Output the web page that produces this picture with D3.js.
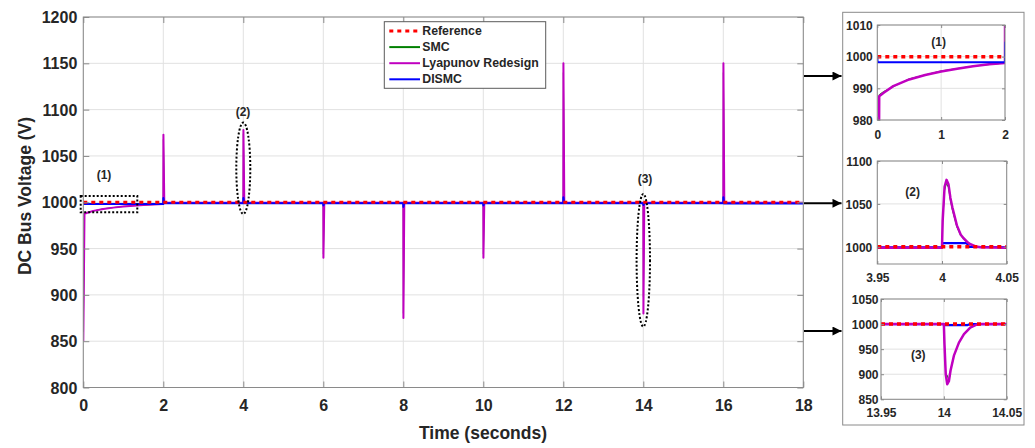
<!DOCTYPE html>
<html>
<head>
<meta charset="utf-8">
<script src="https://cdn.jsdelivr.net/npm/d3@7"></script>
<style>
  body { margin: 0; background: #fff; }
  svg text { font-family: Arial, "Liberation Sans", sans-serif; font-weight: bold; fill: #262626; }
</style>
</head>
<body>
<svg id="chart" width="1035" height="448"></svg>
<script>
// ---------- Main plot: DC bus voltage over the full run ----------
const mainXTicks = [0, 2, 4, 6, 8, 10, 12, 14, 16, 18];
const mainYTicks = [800, 850, 900, 950, 1000, 1050, 1100, 1150, 1200];
const referenceVoltage = 1000;

const lyapT = [0, 0.03, 0.1, 0.25, 0.5, 0.75, 1.0, 1.25, 1.5, 1.75, 2.0, 2.003, 2.025,
               4.0, 4.003, 4.025, 6.0, 6.003, 6.025, 8.0, 8.003, 8.025, 10.0, 10.003, 10.025,
               12.0, 12.003, 12.025, 14.0, 14.003, 14.025, 16.0, 16.003, 16.025, 18.0];
const lyapV = [850, 987.5, 988.6, 990.7, 992.8, 994.2, 995.3, 996.2, 997.0, 997.6, 998.0, 1073, 999.5,
               999.5, 1078, 999.5, 999.5, 940, 999.5, 999.5, 875, 999.5, 999.5, 940, 999.5,
               999.5, 1150, 999.5, 999.5, 880, 999.5, 999.5, 1150, 999.5, 999.5];

const smcT = [0, 0.03, 0.1, 0.5, 1.0, 1.5, 2.0, 2.003, 2.025,
              4.0, 4.003, 4.025, 6.0, 6.003, 6.025, 8.0, 8.003, 8.025, 10.0, 10.003, 10.025,
              12.0, 12.003, 12.025, 14.0, 14.003, 14.025, 16.0, 16.003, 16.025, 18.0];
const smcV = [860, 988, 989, 993, 995.5, 997, 998, 1068, 999.5,
              999.5, 1074, 999.5, 999.5, 944, 999.5, 999.5, 880, 999.5, 999.5, 944, 999.5,
              999.5, 1140, 999.5, 999.5, 898, 999.5, 999.5, 1140, 999.5, 999.5];

const dismcT = [0, 0.004, 2.0, 2.002, 2.02, 4.0, 4.002, 4.02, 6.0, 6.002, 6.02, 8.0, 8.002, 8.02,
                10.0, 10.002, 10.02, 12.0, 12.002, 12.02, 14.0, 14.002, 14.02, 16.0, 16.002, 16.02, 18.0];
const dismcV = [1000, 998.2, 998.2, 1004.5, 999, 999, 1004.5, 999, 999, 996.5, 999, 999, 995, 999,
                999, 996.5, 999, 999, 1005.5, 999, 999, 997, 999, 999, 1005.5, 998.6, 998.6];

// ---------- Zoom (2): step at t = 4 s ----------
const zoom2XTicks = [3.95, 4, 4.05];
const zoom2YTicks = [1000, 1050, 1100];
const zoom2T = [3.95, 4.0, 4.0005, 4.002, 4.0035, 4.005, 4.0065, 4.008, 4.0115, 4.0145, 4.0167, 4.02, 4.022, 4.026, 4.03, 4.05];
const zoom2Lyap = [999, 999, 1030, 1070, 1078, 1073, 1057, 1046, 1025, 1014, 1010, 1005, 1003, 1000.5, 999.5, 999];
const zoom2Smc = [999, 999, 1028, 1066, 1074, 1069, 1054, 1043, 1023, 1013, 1009, 1004.5, 1002.5, 1000.5, 999.5, 999];
const zoom2DismcT = [3.95, 4.0, 4.0003, 4.019, 4.021, 4.05];
const zoom2Dismc = [999.5, 999.5, 1004.3, 1004.3, 1000, 999.5];

// ---------- Zoom (3): step at t = 14 s ----------
const zoom3XTicks = [13.95, 14, 14.05];
const zoom3YTicks = [850, 900, 950, 1000, 1050];
const zoom3T = [13.95, 14.0, 14.0005, 14.0015, 14.0027, 14.004, 14.0053, 14.008, 14.012, 14.016, 14.021, 14.026, 14.03, 14.05];
const zoom3Lyap = [1000, 1000, 960, 900, 880, 886, 907, 937, 963, 980, 993, 998.7, 1000, 1000];
const zoom3Smc = [1000, 1000, 960, 900, 898, 886, 907, 937, 963, 980, 993, 998.7, 1000, 1000];
const zoom3DismcT = [13.95, 14.0, 14.0003, 14.019, 14.021, 14.05];
const zoom3Dismc = [1000, 1000, 998, 998, 1000, 1000];

// ---------- Zoom (1): start-up ----------
const zoom1XTicks = [0, 1, 2];
const zoom1YTicks = [980, 990, 1000, 1010];

const legendNames = ["Reference", "SMC", "Lyapunov Redesign", "DISMC"];
const COLORS = { ref: "#ff0000", smc: "#008000", lyap: "#c000c0", dismc: "#0000ff" };

const svg = d3.select("#chart");
const zip = (ts, vs) => ts.map((t, i) => [t, vs[i]]);

let clipId = 0;
function drawPanel(o) {
  const g = svg.append("g");
  const x = d3.scaleLinear().domain(o.xd).range([o.left, o.right]);
  const y = d3.scaleLinear().domain(o.yd).range([o.bottom, o.top]);
  const h = o.bottom - o.top, w = o.right - o.left;

  g.append("rect").attr("x", o.left).attr("y", o.top).attr("width", w).attr("height", h).attr("fill", "#fff");

  // grid
  const grid = g.append("g").attr("class", "grid");
  grid.selectAll("line.gx").data(o.xt).join("line")
    .attr("x1", d => x(d)).attr("x2", d => x(d)).attr("y1", o.top).attr("y2", o.bottom)
    .attr("stroke", "#e1e1e1").attr("stroke-width", 1);
  grid.selectAll("line.gy").data(o.yt).join("line").attr("class", "gy")
    .attr("x1", o.left).attr("x2", o.right).attr("y1", d => y(d)).attr("y2", d => y(d))
    .attr("stroke", "#e1e1e1").attr("stroke-width", 1);

  const id = "clip" + (clipId++);
  g.append("clipPath").attr("id", id).append("rect")
    .attr("x", o.left).attr("y", o.top).attr("width", w).attr("height", h);
  const plot = g.append("g").attr("clip-path", `url(#${id})`);
  const line = d3.line().x(d => x(d[0])).y(d => y(d[1]));
  o.series.forEach(s => {
    plot.append("path").datum(s.data).attr("d", line)
      .attr("fill", "none").attr("stroke", s.color).attr("stroke-width", s.width)
      .attr("stroke-dasharray", s.dash || null).attr("stroke-linejoin", "round");
  });

  // axes with inward ticks
  const fs = o.fontSize;
  const fmt = d => String(d);
  const ax = g.append("g").attr("transform", `translate(0,${o.bottom})`)
    .call(d3.axisBottom(x).tickValues(o.xt).tickSizeInner(-o.tick).tickSizeOuter(0).tickPadding(o.xPad).tickFormat(fmt));
  const ay = g.append("g").attr("transform", `translate(${o.left},0)`)
    .call(d3.axisLeft(y).tickValues(o.yt).tickSizeInner(-o.tick).tickSizeOuter(0).tickPadding(o.yPad).tickFormat(fmt));
  const at = g.append("g").attr("transform", `translate(0,${o.top})`)
    .call(d3.axisTop(x).tickValues(o.xt).tickSizeInner(-o.tick).tickSizeOuter(0).tickFormat(""));
  const ar = g.append("g").attr("transform", `translate(${o.right},0)`)
    .call(d3.axisRight(y).tickValues(o.yt).tickSizeInner(-o.tick).tickSizeOuter(0).tickFormat(""));
  [ax, ay, at, ar].forEach(a => {
    a.select(".domain").remove();
    a.selectAll(".tick line").attr("stroke", "#8a8a8a");
    a.selectAll("text").attr("font-size", fs).attr("fill", "#262626")
      .style("font-family", 'Arial, "Liberation Sans", sans-serif').style("font-weight", "bold");
  });
  ay.selectAll("text").attr("dy", "0.35em");

  g.append("rect").attr("x", o.left).attr("y", o.top).attr("width", w).attr("height", h)
    .attr("fill", "none").attr("stroke", "#8a8a8a").attr("stroke-width", 1);
  return { x, y, g };
}

// ---------- main panel ----------
const main = drawPanel({
  left: 83.3, right: 803.3, top: 17, bottom: 387.5,
  xd: [0, 18], yd: [800, 1200], xt: mainXTicks, yt: mainYTicks,
  fontSize: 16, tick: 6, xPad: 12, yPad: 6,
  series: [
    { data: zip(smcT, smcV), color: COLORS.smc, width: 1 },
    { data: zip(lyapT, lyapV), color: COLORS.lyap, width: 2 },
    { data: zip(dismcT, dismcV), color: COLORS.dismc, width: 2 },
    { data: [[0, referenceVoltage], [18, referenceVoltage]], color: COLORS.ref, width: 3, dash: "4,4" }
  ]
});

// axis titles
svg.append("text").attr("x", 483).attr("y", 439.3).attr("text-anchor", "middle")
  .attr("font-size", 17.5).text("Time (seconds)");
svg.append("text").attr("transform", "translate(30.5,196) rotate(-90)").attr("text-anchor", "middle")
  .attr("font-size", 17.5).text("DC Bus Voltage (V)");

// annotations on the main panel
const ann = svg.append("g");
ann.append("rect").attr("x", 80.7).attr("y", 196).attr("width", 56.6).attr("height", 16.3)
  .attr("fill", "none").attr("stroke", "#000").attr("stroke-width", 2).attr("stroke-dasharray", "2,2");
ann.append("ellipse").attr("cx", main.x(4)).attr("cy", 168.3).attr("rx", 7).attr("ry", 45.7)
  .attr("fill", "none").attr("stroke", "#000").attr("stroke-width", 2).attr("stroke-dasharray", "2,2");
ann.append("ellipse").attr("cx", main.x(14)).attr("cy", 260.3).attr("rx", 6.7).attr("ry", 66.3)
  .attr("fill", "none").attr("stroke", "#000").attr("stroke-width", 2).attr("stroke-dasharray", "2,2");
[["(1)", 104, 175], ["(2)", 243, 111.7], ["(3)", 645, 178.3]].forEach(([t, x, y]) => {
  ann.append("text").attr("x", x).attr("y", y).attr("dy", "0.35em").attr("text-anchor", "middle")
    .attr("font-size", 12).text(t);
});

// legend
const leg = svg.append("g");
leg.append("rect").attr("x", 384.3).attr("y", 21.7).attr("width", 161.4).attr("height", 66.6)
  .attr("fill", "#fff").attr("stroke", "#5a5a5a").attr("stroke-width", 1);
const legColors = [COLORS.ref, COLORS.smc, COLORS.lyap, COLORS.dismc];
legendNames.forEach((name, i) => {
  const by = 35 + i * 16.1;
  leg.append("line").attr("x1", 389.3).attr("x2", 420).attr("y1", by - 4).attr("y2", by - 4)
    .attr("stroke", legColors[i]).attr("stroke-width", i === 0 ? 3 : 2)
    .attr("stroke-dasharray", i === 0 ? "4,4" : null);
  leg.append("text").attr("x", 422.3).attr("y", by).attr("font-size", 12.3).text(name);
});

// ---------- zoom panels ----------
svg.append("rect").attr("x", 842.7).attr("y", 12.3).attr("width", 181.3).attr("height", 412.7)
  .attr("fill", "#fff").attr("stroke", "#8a8a8a").attr("stroke-width", 1);

drawPanel({
  left: 877.3, right: 1005, top: 25, bottom: 120,
  xd: [0, 2], yd: [980, 1010], xt: zoom1XTicks, yt: zoom1YTicks,
  fontSize: 12, tick: 3, xPad: 10, yPad: 4.5,
  series: [
    { data: zip(smcT, smcV), color: COLORS.smc, width: 1 },
    { data: zip(lyapT, lyapV), color: COLORS.lyap, width: 2.5 },
    { data: zip(dismcT, dismcV), color: COLORS.dismc, width: 2 },
    { data: [[0, referenceVoltage], [2, referenceVoltage]], color: COLORS.ref, width: 3.5, dash: "4,4" }
  ]
});
drawPanel({
  left: 877.3, right: 1006.7, top: 161, bottom: 264,
  xd: [3.95, 4.05], yd: [980, 1100], xt: zoom2XTicks, yt: zoom2YTicks,
  fontSize: 12, tick: 3, xPad: 9, yPad: 5,
  series: [
    { data: zip(zoom2T, zoom2Smc), color: COLORS.smc, width: 1 },
    { data: zip(zoom2DismcT, zoom2Dismc), color: COLORS.dismc, width: 2.2 },
    { data: zip(zoom2T, zoom2Lyap), color: COLORS.lyap, width: 2.5 },
    { data: [[3.95, referenceVoltage], [4.05, referenceVoltage]], color: COLORS.ref, width: 3.5, dash: "4,4" }
  ]
});
drawPanel({
  left: 881, right: 1006.7, top: 299, bottom: 399.3,
  xd: [13.95, 14.05], yd: [850, 1050], xt: zoom3XTicks, yt: zoom3YTicks,
  fontSize: 12, tick: 3, xPad: 9, yPad: 2.5,
  series: [
    { data: zip(zoom3DismcT, zoom3Dismc), color: COLORS.dismc, width: 2.2 },
    { data: zip(zoom3T, zoom3Smc), color: COLORS.smc, width: 1 },
    { data: zip(zoom3T, zoom3Lyap), color: COLORS.lyap, width: 2.5 },
    { data: [[13.95, referenceVoltage], [14.05, referenceVoltage]], color: COLORS.ref, width: 3.5, dash: "4,4" }
  ]
});
[["(1)", 938.7, 41.3], ["(2)", 912.7, 191.7], ["(3)", 918.3, 355]].forEach(([t, x, y]) => {
  svg.append("text").attr("x", x).attr("y", y).attr("dy", "0.35em").attr("text-anchor", "middle")
    .attr("font-size", 12).text(t);
});

// arrows from the main panel to each zoom
const defs = svg.append("defs");
defs.append("marker").attr("id", "head").attr("viewBox", "0 0 10 10").attr("refX", 10).attr("refY", 5)
  .attr("markerWidth", 5).attr("markerHeight", 4.5).attr("markerUnits", "strokeWidth").attr("orient", "auto")
  .append("path").attr("d", "M0,0 L10,5 L0,10 Z").attr("fill", "#000");
[76, 203.3, 331].forEach(yy => {
  svg.append("line").attr("x1", 804).attr("x2", 841.5).attr("y1", yy).attr("y2", yy)
    .attr("stroke", "#000").attr("stroke-width", 2).attr("marker-end", "url(#head)");
});
</script>
</body>
</html>
